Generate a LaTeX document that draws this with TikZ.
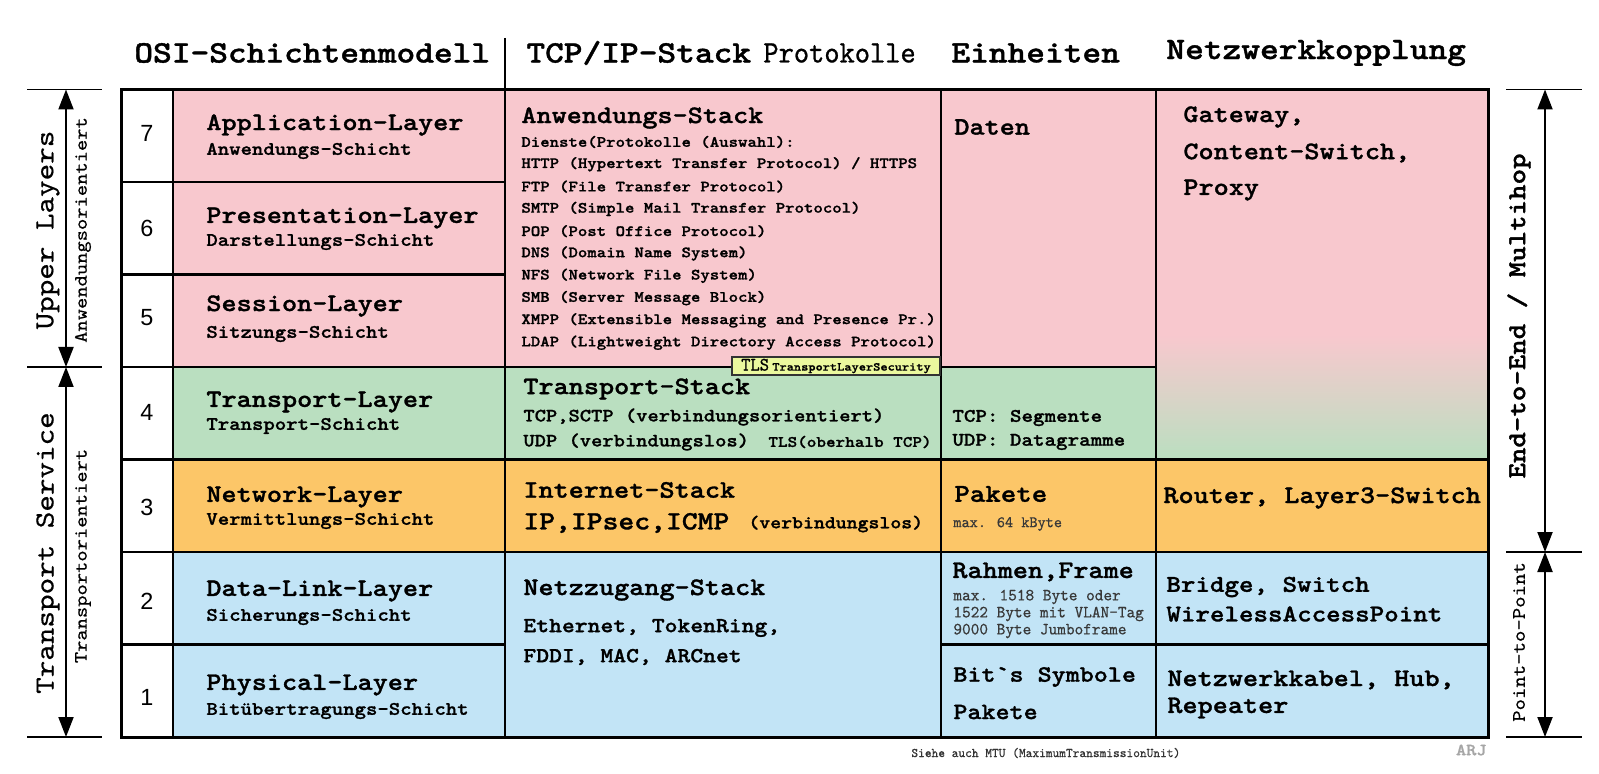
\documentclass[tikz,border=0pt]{standalone}
\usepackage{fontspec}
\usetikzlibrary{arrows.meta}
\newfontfamily\lm[Extension=.otf, UprightFont=*-regular, BoldFont=lmmonolt10-bold, BoldFeatures={FakeBold=1.2}, FakeStretch=1.143]{lmmono10}
\newfontfamily\lmr[Extension=.otf, UprightFont=*-regular, FakeBold=0.5, FakeStretch=1.143]{lmmono10}
\newfontfamily\lmn[Extension=.otf, UprightFont=*-regular, FakeBold=0.6, FakeStretch=0.97]{lmmono10}
\newfontfamily\lmh[Extension=.otf, UprightFont=*-regular, FakeBold=0.8, FakeStretch=0.93]{lmmono10}
\newfontfamily\ls{Liberation Sans}
\newcommand\myfs[1]{\fontsize{#1}{#1}\selectfont}
\definecolor{pinkc}{RGB}{248,200,206}
\definecolor{greenc}{RGB}{186,223,192}
\definecolor{orangec}{RGB}{252,198,104}
\definecolor{bluec}{RGB}{194,228,246}
\definecolor{tlsc}{RGB}{235,248,158}
\tikzset{
  txt/.style={inner sep=0, anchor=west},
  hdr/.style={txt, font=\lm\bfseries\myfs{15.6}},
  ttl/.style={txt, font=\lm\bfseries\myfs{12.6}},
  sub/.style={txt, font=\lm\bfseries\myfs{9.5}},
  lst/.style={txt, font=\lm\bfseries\myfs{7.85}},
  mid/.style={txt, font=\lm\bfseries\myfs{9.4}},
  note/.style={txt, font=\lmn\myfs{8.5}, text=black!78},
  num/.style={inner sep=0, font=\ls\myfs{11.7}},
  grid/.style={line width=1.2pt, black},
  tick/.style={line width=0.8pt, black},
  dim/.style={line width=1pt, {Triangle[length=10pt,width=7.5pt]}-{Triangle[length=10pt,width=7.5pt]}},
  vlab/.style={inner sep=0, rotate=90}
}
\begin{document}
\begin{tikzpicture}[x=0.5pt,y=-0.5pt]
\useasboundingbox (0,0) rectangle (1599,774);
% row fills
\fill[pinkc] (173,89.5) rectangle (1488,367);
\fill[greenc] (173,367) rectangle (1488,459.5);
\fill[orangec] (173,459.5) rectangle (1488,552);
\fill[bluec] (173,552) rectangle (1488,737);
% merged Netzwerkkopplung cell with gradient
\fill[pinkc] (1156,89.5) rectangle (1488,335);
\shade[top color=pinkc, bottom color=greenc] (1156,335) rectangle (1488,459.5);
\fill[white] (121,89.5) rectangle (173,737);
% grid lines
\draw[grid] (173,89.5) -- (173,737);
\draw[grid] (505,89.5) -- (505,737);
\draw[grid] (941,89.5) -- (941,737);
\draw[grid] (1156,89.5) -- (1156,737);
\draw[grid] (121,182) -- (505,182);
\draw[grid] (121,274.5) -- (505,274.5);
\draw[grid] (121,367) -- (1156,367);
\draw[grid] (121,459.5) -- (1488,459.5);
\draw[grid] (121,552) -- (1488,552);
\draw[grid] (121,644.5) -- (505,644.5);
\draw[grid] (941,644.5) -- (1488,644.5);
\draw[line width=1.5pt] (121,89.5) rectangle (1488,737);
% header divider
\draw[line width=1pt] (505,38) -- (505,89.5);
% headers
\node[hdr] (h1) at (134,53) {OSI-Schichtenmodell};
\node[hdr] (h2) at (526,53) {TCP/IP-Stack};
\node[txt, font=\lmh\myfs{15.6}] (h2b) at (763,53) {Protokolle};
\node[hdr] (h3) at (951,53) {Einheiten};
\node[hdr] (h4) at (1166,53) {Netzwerkkopplung};
% left dimension
\draw[tick] (27,89.5) -- (102,89.5);
\draw[tick] (27,367) -- (102,367);
\draw[tick] (27,737) -- (102,737);
\coordinate (lt) at (66,89.5);
\coordinate (lm) at (66,367);
\coordinate (lb) at (66,737);
\draw[dim] (lt) -- (lm);
\draw[dim] (lm) -- (lb);
\node[vlab, font=\lmr\myfs{13.8}] (ul) at (48,230) {Upper Layers};
\node[vlab, font=\lmr\myfs{9.4}] (ao) at (83,230) {Anwendungsorientiert};
\node[vlab, font=\lmr\myfs{13.8}] (ts) at (48,553) {Transport Service};
\node[vlab, font=\lmr\myfs{9.4}] (to) at (83,556) {Transportorientiert};
% right dimension
\draw[tick] (1506,89.5) -- (1582,89.5);
\draw[tick] (1506,552) -- (1582,552);
\draw[tick] (1506,737) -- (1582,737);
\coordinate (rt) at (1545,89.5);
\coordinate (rm) at (1545,552);
\coordinate (rb) at (1545,737);
\draw[dim] (rt) -- (rm);
\draw[dim] (rm) -- (rb);
\node[vlab, font=\lm\bfseries\myfs{12.9}] (ee) at (1519,316) {End-to-End / Multihop};
\node[vlab, font=\lmr\myfs{9.5}] (pp) at (1519,642) {Point-to-Point};
% numbers
\node[num] (n7) at (147,133) {7};
\node[num] (n6) at (147,228) {6};
\node[num] (n5) at (147,318) {5};
\node[num] (n4) at (147,412) {4};
\node[num] (n3) at (147,507) {3};
\node[num] (n2) at (147,601) {2};
\node[num] (n1) at (147,697) {1};
% OSI layers
\node[ttl] (o7) at (206,125) {Application-Layer};
\node[sub] (o7s) at (206,151) {Anwendungs-Schicht};
\node[ttl] (o6) at (206,218) {Presentation-Layer};
\node[sub] (o6s) at (206,242) {Darstellungs-Schicht};
\node[ttl] (o5) at (206,306) {Session-Layer};
\node[sub] (o5s) at (206,334) {Sitzungs-Schicht};
\node[ttl] (o4) at (206,402) {Transport-Layer};
\node[sub] (o4s) at (206,426) {Transport-Schicht};
\node[ttl] (o3) at (206,497) {Network-Layer};
\node[sub] (o3s) at (206,521) {Vermittlungs-Schicht};
\node[ttl] (o2) at (206,591) {Data-Link-Layer};
\node[sub] (o2s) at (206,617) {Sicherungs-Schicht};
\node[ttl] (o1) at (206,685) {Physical-Layer};
\node[sub] (o1s) at (206,711) {Bitübertragungs-Schicht};
% TCP/IP column
\node[ttl] (ta) at (521,118) {Anwendungs-Stack};
\foreach \s [count=\i] in {{Dienste(Protokolle (Auswahl):},
  {HTTP (Hypertext Transfer Protocol) / HTTPS},
  {FTP (File Transfer Protocol)},
  {SMTP (Simple Mail Transfer Protocol)},
  {POP (Post Office Protocol)},
  {DNS (Domain Name System)},
  {NFS (Network File System)},
  {SMB (Server Message Block)},
  {XMPP (Extensible Messaging and Presence Pr.)},
  {LDAP (Lightweight Directory Access Protocol)}}
  \node[lst] (app\i) at (521,{142+22.3*(\i-1)}) {\s};
\node[ttl] (tt) at (523,389) {Transport-Stack};
\node[mid] (tt1) at (523,417) {TCP,SCTP (verbindungsorientiert)};
\node[mid] (tt2) at (523,442) {UDP (verbindungslos)};
\node[txt, font=\lm\bfseries\myfs{8}] (tt3) at (768,442) {TLS(oberhalb TCP)};
\node[ttl] (ti) at (523,490) {Internet-Stack};
\node[txt, font=\lm\bfseries\myfs{13.2}] (ti1) at (523,523) {IP,IPsec,ICMP};
\node[txt, font=\lm\bfseries\myfs{9.1}] (ti2) at (748,524) {(verbindungslos)};
\node[ttl] (tn) at (523,590) {Netzzugang-Stack};
\node[txt, font=\lm\bfseries\myfs{10.7}] (tn1) at (523,628) {Ethernet, TokenRing,};
\node[txt, font=\lm\bfseries\myfs{10.7}] (tn2) at (523,657) {FDDI, MAC, ARCnet};
% TLS box
\node[draw=black!80, line width=1pt, fill=tlsc, inner sep=0, minimum width=104pt, minimum height=9pt, anchor=west] (tls) at (731,366)
  {{\lmh\myfs{9.5}TLS}\,{\lm\bfseries\myfs{6}TransportLayerSecurity}};
% Einheiten
\node[ttl] (e7) at (954,127) {Daten};
\node[txt, font=\lm\bfseries\myfs{9.6}] (e4a) at (952,418) {TCP: Segmente};
\node[txt, font=\lm\bfseries\myfs{9.6}] (e4b) at (952,442) {UDP: Datagramme};
\node[txt, font=\lm\bfseries\myfs{12.9}] (e3) at (954,494) {Pakete};
\node[note, font=\lmn\myfs{8}] (e3s) at (953,524) {max. 64 kByte};
\node[ttl] (e2) at (952,572) {Rahmen,Frame};
\node[note] (e2a) at (953,597) {max. 1518 Byte oder};
\node[note] (e2b) at (953,614) {1522 Byte mit VLAN-Tag};
\node[note] (e2c) at (953,631) {9000 Byte Jumboframe};
\node[txt, font=\lm\bfseries\myfs{11.7}] (e1a) at (953,677) {Bit\symbol{96}s Symbole};
\node[txt, font=\lm\bfseries\myfs{11.7}] (e1b) at (953,712) {Pakete};
% Netzwerkkopplung
\node[ttl] (k7a) at (1183,117) {Gateway,};
\node[ttl] (k7b) at (1183,153) {Content-Switch,};
\node[ttl] (k7c) at (1183,190) {Proxy};
\node[ttl] (k3) at (1163,498) {Router, Layer3-Switch};
\node[txt, font=\lm\bfseries\myfs{12.1}] (k2a) at (1166,587) {Bridge, Switch};
\node[txt, font=\lm\bfseries\myfs{12.1}] (k2b) at (1166,614) {WirelessAccessPoint};
\node[ttl] (k1a) at (1167,680) {Netzwerkkabel, Hub,};
\node[ttl] (k1b) at (1167,708) {Repeater};
% footer
\node[txt, font=\lmn\myfs{6.6}, text=black!80] (ft) at (911,753) {Siehe auch MTU (MaximumTransmissionUnit)};
\node[inner sep=0, anchor=east, font=\lm\bfseries\myfs{8.5}, text=black!35] (arj) at (1487,750) {ARJ};
\end{tikzpicture}
\end{document}
